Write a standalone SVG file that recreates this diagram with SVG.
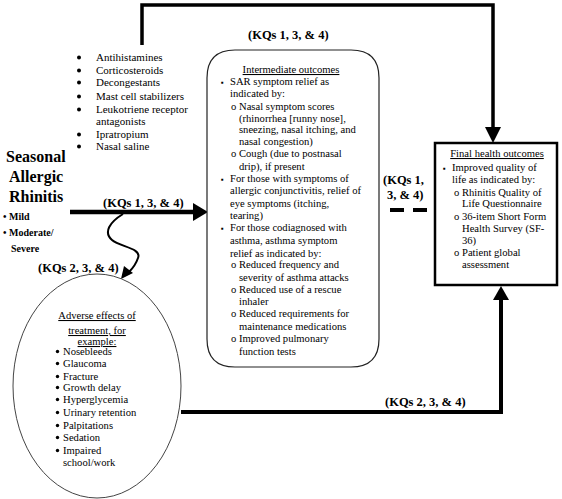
<svg xmlns="http://www.w3.org/2000/svg" width="562" height="499" viewBox="0 0 562 499">
<defs>
<style>
text{font-family:"Liberation Serif","Times New Roman",serif;fill:#000}
.t{font-size:10.6px}
.d{font-size:11px}
.b{font-weight:bold}
.kq{font-size:12.5px;font-weight:bold}
.u{text-decoration:underline}
.c{stroke:#000;fill:none}
</style>
</defs>
<rect width="562" height="499" fill="#fff"/>

<g id="connectors">
<path class="c" d="M142,45 V5 H493 V128" stroke-width="3.5"/>
<polygon points="485,127 501,127 493,143" fill="#000"/>
<path class="c" d="M70,212 H194" stroke-width="4.5"/>
<polygon points="193,203 193,221 208,212" fill="#000"/>
<path class="c" d="M123,214 C110,222 103,232 112,240 C120,247 142,248 138,258 C136,264 132,269 129,272" stroke-width="2"/>
<polygon points="121,279 124,266 133,273" fill="#000"/>
<path class="c" d="M181,412 H501 V299" stroke-width="4"/>
<polygon points="493,300 509,300 501,286" fill="#000"/>
<path class="c" d="M390,210 H428" stroke-width="4" stroke-dasharray="14 9"/>
<text class="kq" x="248" y="39">(KQs 1, 3, &amp; 4)</text>
<text class="kq" x="103" y="207">(KQs 1, 3, &amp; 4)</text>
<text class="kq" x="38" y="272">(KQs 2, 3, &amp; 4)</text>
<text class="kq" x="385" y="406">(KQs 2, 3, &amp; 4)</text>
<text class="kq" x="383" y="184">(KQs 1,</text>
<text class="kq" x="387" y="199">3, &amp; 4)</text>
</g>

<g id="interventions">
<g fill="#000">
<circle cx="79" cy="57.5" r="2"/>
<circle cx="79" cy="70.5" r="2"/>
<circle cx="79" cy="82.5" r="2"/>
<circle cx="79" cy="96.5" r="2"/>
<circle cx="79" cy="109.5" r="2"/>
<circle cx="79" cy="134.5" r="2"/>
<circle cx="79" cy="146.5" r="2"/>
</g>
<g class="d">
<text x="96" y="61">Antihistamines</text>
<text x="96" y="74">Corticosteroids</text>
<text x="96" y="86">Decongestants</text>
<text x="96" y="100">Mast cell  stabilizers</text>
<text x="96" y="113">Leukotriene receptor</text>
<text x="96" y="125">antagonists</text>
<text x="96" y="138">Ipratropium</text>
<text x="96" y="150">Nasal saline</text>
</g>
</g>

<g id="population">
<text class="b" x="6" y="162" font-size="16">Seasonal</text>
<text class="b" x="9" y="182" font-size="16">Allergic</text>
<text class="b" x="9" y="202" font-size="16">Rhinitis</text>
<text class="b" x="3" y="220" font-size="10">• Mild</text>
<text class="b" x="3" y="236" font-size="10">• Moderate/</text>
<text class="b" x="11" y="252" font-size="10">Severe</text>
</g>

<g id="intermediate">
<path d="M235,50 H351 Q379,50 379,78 V339 Q379,367 351,367 H235 Q207,367 207,339 V78 Q207,50 235,50 Z" fill="#fff" stroke="#222" stroke-width="1.2"/>
<g class="t">
<text class="u" x="291" y="73" text-anchor="middle">Intermediate outcomes</text>
<text x="221" y="85" font-size="8">▪</text><text x="230" y="85">SAR symptom relief  as</text>
<text x="230" y="97">indicated by:</text>
<text x="231" y="110">o</text><text x="239" y="110">Nasal symptom scores</text>
<text x="239" y="122">(rhinorrhea [runny nose],</text>
<text x="239" y="133">sneezing, nasal itching, and</text>
<text x="239" y="145">nasal congestion)</text>
<text x="231" y="157">o</text><text x="239" y="157">Cough (due to postnasal</text>
<text x="239" y="170">drip), if present</text>
<text x="221" y="182" font-size="8">▪</text><text x="230" y="182">For those with symptoms of</text>
<text x="230" y="194">allergic conjunctivitis, relief of</text>
<text x="230" y="207">eye symptoms (itching,</text>
<text x="230" y="219">tearing)</text>
<text x="221" y="231" font-size="8">▪</text><text x="230" y="231">For those codiagnosed with</text>
<text x="230" y="244">asthma, asthma symptom</text>
<text x="230" y="257">relief as indicated by:</text>
<text x="231" y="268">o</text><text x="239" y="268">Reduced frequency and</text>
<text x="239" y="281">severity of asthma attacks</text>
<text x="231" y="293">o</text><text x="239" y="293">Reduced use of a rescue</text>
<text x="239" y="305">inhaler</text>
<text x="231" y="317">o</text><text x="239" y="317">Reduced requirements for</text>
<text x="239" y="330">maintenance medications</text>
<text x="231" y="342">o</text><text x="239" y="342">Improved pulmonary</text>
<text x="239" y="355">function tests</text>
</g>
</g>

<g id="final">
<rect x="435" y="143" width="122" height="142" fill="#fff" stroke="#000" stroke-width="2.5"/>
<g class="t">
<text class="u" x="497" y="157" text-anchor="middle">Final health outcomes</text>
<text x="443" y="171" font-size="8">▪</text><text x="452" y="171">Improved quality of</text>
<text x="452" y="183">life  as indicated by:</text>
<text x="454" y="196">o</text><text x="462" y="196">Rhinitis Quality of</text>
<text x="462" y="207">Life  Questionnaire</text>
<text x="454" y="220">o</text><text x="462" y="220">36-item  Short Form</text>
<text x="462" y="232">Health Survey (SF-</text>
<text x="462" y="244">36)</text>
<text x="454" y="256">o</text><text x="462" y="256">Patient global</text>
<text x="462" y="268">assessment</text>
</g>
</g>

<g id="adverse">
<ellipse cx="97" cy="386" rx="84" ry="112" fill="none" stroke="#444" stroke-width="1"/>
<g fill="#000">
<circle cx="57.5" cy="351.5" r="1.7"/>
<circle cx="57.5" cy="363.5" r="1.7"/>
<circle cx="57.5" cy="376.5" r="1.7"/>
<circle cx="57.5" cy="387.5" r="1.7"/>
<circle cx="57.5" cy="399.5" r="1.7"/>
<circle cx="57.5" cy="412.5" r="1.7"/>
<circle cx="57.5" cy="425.5" r="1.7"/>
<circle cx="57.5" cy="437.5" r="1.7"/>
<circle cx="57.5" cy="450.5" r="1.7"/>
</g>
<g class="t">
<text class="u" x="97" y="319" text-anchor="middle">Adverse effects of</text>
<text class="u" x="97" y="334" text-anchor="middle">treatment, for</text>
<text class="u" x="97" y="345" text-anchor="middle">example:</text>
<text x="63" y="355">Nosebleeds</text>
<text x="63" y="367">Glaucoma</text>
<text x="63" y="380">Fracture</text>
<text x="63" y="391">Growth delay</text>
<text x="63" y="403">Hyperglycemia</text>
<text x="63" y="416">Urinary retention</text>
<text x="63" y="429">Palpitations</text>
<text x="63" y="441">Sedation</text>
<text x="63" y="454">Impaired</text>
<text x="63" y="466">school/work</text>
</g>
</g>
</svg>
